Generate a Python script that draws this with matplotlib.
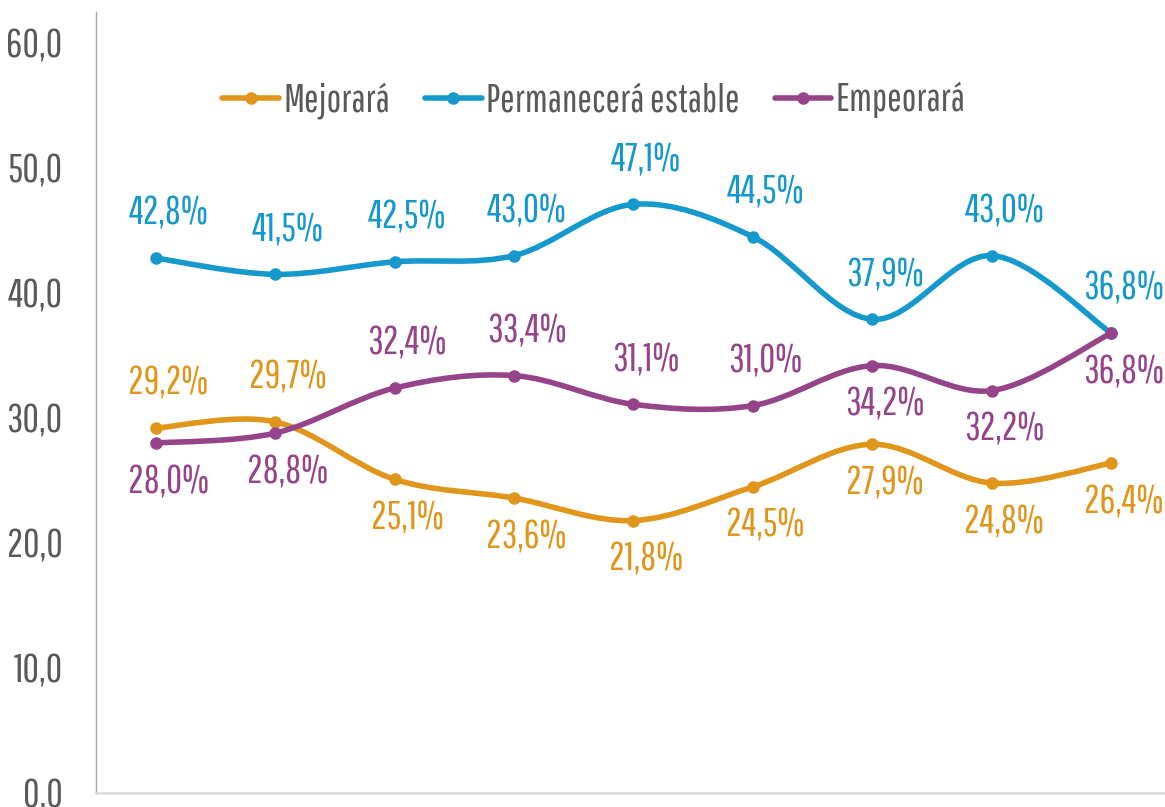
import matplotlib
matplotlib.use("Agg")
import matplotlib.pyplot as plt
from matplotlib import font_manager
from matplotlib.path import Path
from matplotlib.patches import PathPatch
from matplotlib.lines import Line2D

installed = {f.name for f in font_manager.fontManager.ttflist}
for cand in ['Saira Extra Condensed', 'Pathway Gothic One', 'Antonio', 'Oswald',
             'Barlow Condensed', 'Roboto Condensed', 'DejaVu Sans']:
    if cand in installed:
        font = cand
        break
plt.rcParams['font.family'] = [font, 'DejaVu Sans']

periods = list(range(9))
mejorara = [29.2, 29.7, 25.1, 23.6, 21.8, 24.5, 27.9, 24.8, 26.4]
estable = [42.8, 41.5, 42.5, 43.0, 47.1, 44.5, 37.9, 43.0, 36.8]
empeorara = [28.0, 28.8, 32.4, 33.4, 31.1, 31.0, 34.2, 32.2, 36.8]

# label side per point: 1 above, -1 below
mej_side = [1, 1, -1, -1, -1, -1, -1, -1, -1]
est_side = [1] * 9
emp_side = [-1, -1, 1, 1, 1, 1, -1, -1, -1]

names = ["Mejorará", "Permanecerá estable", "Empeorará"]
colors = ["#E0951B", "#1599CC", "#954489"]
series = [mejorara, estable, empeorara]
sides = [mej_side, est_side, emp_side]


def smooth_path(x, y):
    # Excel-like smoothed line: cubic bezier with catmull-rom control points
    pts = list(zip(x, y))
    verts = [pts[0]]
    codes = [Path.MOVETO]
    n = len(pts)
    for i in range(n - 1):
        p0 = pts[i - 1] if i > 0 else pts[i]
        p1 = pts[i]
        p2 = pts[i + 1]
        p3 = pts[i + 2] if i + 2 < n else pts[i + 1]
        c1 = (p1[0] + (p2[0] - p0[0]) / 6, p1[1] + (p2[1] - p0[1]) / 6)
        c2 = (p2[0] - (p3[0] - p1[0]) / 6, p2[1] - (p3[1] - p1[1]) / 6)
        verts += [c1, c2, p2]
        codes += [Path.CURVE4] * 3
    return Path(verts, codes)


fig = plt.figure(figsize=(11.65, 8.07), dpi=100)
ax = fig.add_axes([0.0824, 0.0173, 0.9176, 0.968])

handles = []
for vals, name, col, side in zip(series, names, colors, sides):
    ax.add_patch(PathPatch(smooth_path(periods, vals), facecolor='none',
                           edgecolor=col, lw=4.0, capstyle='round', zorder=2))
    ax.plot(periods, vals, 'o', color=col, ms=8, zorder=3)
    for xi, v, s in zip(periods, vals, side):
        ax.annotate(f"{v:.1f}%".replace('.', ','), (xi, v),
                    xytext=(9, 32 if s > 0 else -28), textcoords='offset points',
                    ha='center', va='center', fontsize=28, color=col)
    handles.append(Line2D([], [], color=col, lw=4.0, marker='o', ms=8,
                          solid_capstyle='round'))

ax.set_xlim(-0.5, 8.45)
ax.set_ylim(0, 62.5)
ax.set_yticks([0, 10, 20, 30, 40, 50, 60])
ax.set_yticklabels([f"{t:.1f}".replace('.', ',') for t in [0, 10, 20, 30, 40, 50, 60]])
ax.set_xticks([])
ax.tick_params(axis='y', length=0, pad=24, labelsize=29, labelcolor='#595959')

for s in ['top', 'right']:
    ax.spines[s].set_visible(False)
ax.spines['left'].set_color('#A6A6A6')
ax.spines['left'].set_linewidth(1.0)
ax.spines['bottom'].set_color('#D9D9D9')
ax.spines['bottom'].set_linewidth(1.8)

leg = ax.legend(handles, names, loc='center', bbox_to_anchor=(0.466, 0.887),
                ncol=3, frameon=False, fontsize=28, handlelength=1.45,
                handletextpad=0.12, columnspacing=0.9)
for t in leg.get_texts():
    t.set_color('#595959')

fig.savefig("out.png", dpi=100)
